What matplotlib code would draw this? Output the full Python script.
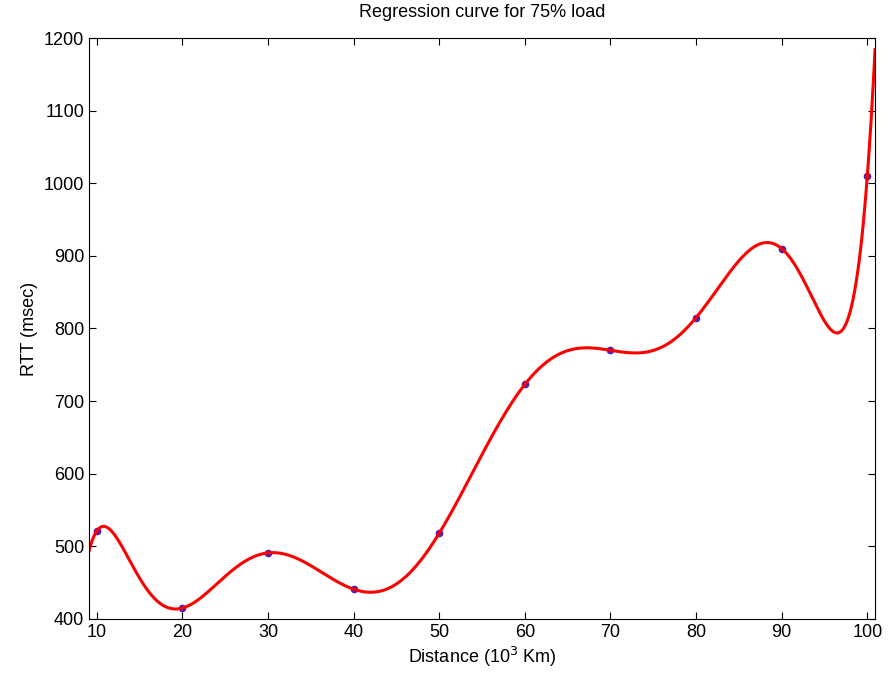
import numpy as np
import matplotlib
matplotlib.use("Agg")
import matplotlib.pyplot as plt

plt.rcParams['font.family'] = ['Liberation Sans', 'DejaVu Sans']

# measured points
distance = [10, 20, 30, 40, 50, 60, 70, 80, 90, 100]
rtt = [521, 415, 491, 441, 518, 723, 770, 815, 910, 1010]

# regression curve (polynomial fit through the measured points)
coef = np.polyfit(distance, rtt, len(distance) - 1)
xs = np.linspace(9.1, 100.9, 600)
ys = np.polyval(coef, xs)

fig = plt.figure(figsize=(8.88, 6.85), dpi=100)
ax = fig.add_axes([0.1002, 0.0964, 0.8852, 0.8481])

ax.plot(distance, rtt, '.', color='#4a1fc0', markersize=9)
ax.plot(xs, ys, color='red', lw=2.2)

ax.set_xlim(9.1, 100.9)
ax.set_ylim(400, 1200)
ax.set_xticks(range(10, 101, 10))
ax.set_yticks(range(400, 1201, 100))
ax.tick_params(direction='in', top=True, right=True, labelsize=13, length=5)

ax.set_title('Regression curve for 75% load', fontsize=13, pad=15)
ax.set_xlabel('Distance (10$^3$ Km)', fontsize=13, labelpad=3)
ax.set_ylabel('RTT (msec)', fontsize=13)

fig.savefig('out.png', dpi=100)
